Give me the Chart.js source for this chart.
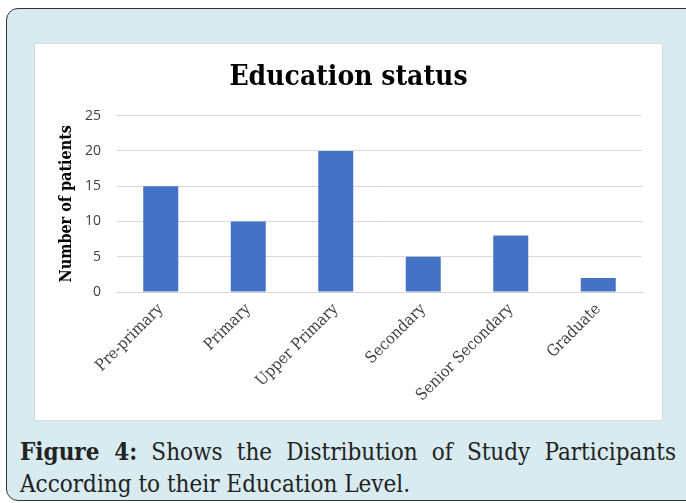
<!DOCTYPE html>
<html>
<head>
<meta charset="utf-8">
<script src="https://cdn.jsdelivr.net/npm/chart.js@4.4.0/dist/chart.umd.min.js"></script>
<style>
  html, body { margin: 0; padding: 0; background: #fff; }
  body { width: 686px; height: 503px; position: relative; overflow: hidden; }
  #frame {
    position: absolute; left: 6px; top: 8px; width: 690px; height: 491px;
    background: #d7ebf0; border: 1px solid #333; border-radius: 12px;
  }
  #panel {
    position: absolute; left: 34px; top: 43px; width: 627px; height: 376px;
    background: #fff; border: 1px solid #d9d9d9;
  }
  #caption {
    position: absolute; left: 20px; top: 436px; width: 656px;
    font-family: "DejaVu Serif Condensed", "DejaVu Serif", serif; font-size: 24px; line-height: 32px;
    color: #222;
  }
  #caption .first { text-align: justify; text-align-last: justify; }
</style>
</head>
<body>
<div id="frame"></div>
<div id="panel"><canvas id="chart" width="627" height="376"></canvas></div>
<div id="caption">
  <div class="first"><b>Figure 4:</b> Shows the Distribution of Study Participants</div>
  <div>According to their Education Level.</div>
</div>
<script>
const categories = ['Pre-primary', 'Primary', 'Upper Primary', 'Secondary', 'Senior Secondary', 'Graduate']
const patients = [15, 10, 20, 5, 8, 2]
const yTicks = [0, 5, 10, 15, 20, 25]

const chartCanvas = document.querySelector('#chart')
const serif = 'DejaVu Serif Condensed'

new Chart(chartCanvas, {
  type: 'bar',
  data: {
    labels: categories,
    datasets: [
      {
        label: 'Number of patients',
        data: patients,
        backgroundColor: '#4472c4',
        barPercentage: 0.4,
        categoryPercentage: 1
      }
    ]
  },
  options: {
    responsive: false,
    animation: false,
    // equal side padding keeps the title centred on the panel
    layout: { padding: { top: 17, right: 20, left: 20, bottom: 0 } },
    plugins: {
      legend: { display: false },
      tooltip: { enabled: false },
      title: {
        display: true,
        text: 'Education status',
        color: '#000',
        font: { family: serif, size: 28, weight: 'bold' },
        padding: { top: 0, bottom: 21 }
      }
    },
    scales: {
      x: {
        grid: { display: false, drawTicks: false },
        border: { display: true, color: '#d9d9d9' },
        ticks: {
          minRotation: 45,
          maxRotation: 45,
          padding: 8,
          color: '#404040',
          font: { family: serif, size: 16 }
        },
        afterFit: scale => { scale.height = 128 }
      },
      y: {
        min: 0,
        max: 25,
        afterBuildTicks: scale => { scale.ticks = yTicks.map(v => ({ value: v })) },
        grid: { color: '#d9d9d9', drawTicks: false },
        border: { display: false },
        ticks: {
          padding: 16,
          color: '#404040',
          font: { family: 'Open Sans', size: 14 }
        },
        title: {
          display: true,
          text: 'Number of patients',
          color: '#000',
          font: { family: serif, size: 16, weight: 'bold' },
          padding: { top: 2, bottom: 0 }
        },
        afterFit: scale => { scale.width = 62 }
      }
    }
  }
})
</script>
</body>
</html>
